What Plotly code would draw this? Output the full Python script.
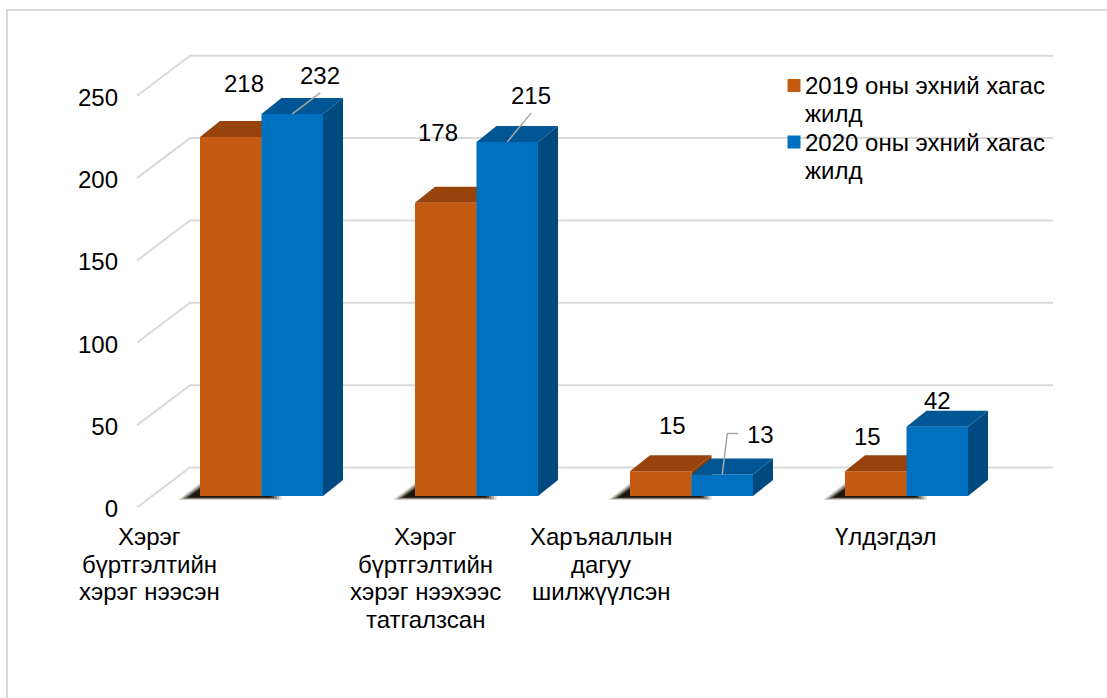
import plotly.graph_objects as go

# ---------- data ----------
categories = [
    "Хэрэг<br>бүртгэлтийн<br>хэрэг нээсэн",
    "Хэрэг<br>бүртгэлтийн<br>хэрэг нээхээс<br>татгалзсан",
    "Харъяаллын<br>дагуу<br>шилжүүлсэн",
    "Үлдэгдэл",
]
series_2019 = [218, 178, 15, 15]
series_2020 = [232, 215, 13, 42]
name_2019 = "2019 оны эхний хагас<br>жилд"
name_2020 = "2020 оны эхний хагас<br>жилд"
y_ticks = [0, 50, 100, 150, 200, 250]

# ---------- geometry ----------
W, H = 1107, 698
PX_CAT = 215.0          # px per category
PX_VAL = 1.647          # px per value unit
C0 = 261.5              # px of first group centre
BASE = 496.0            # px of value 0 in the bar plane
FRONT_BASE = 509.0      # px of value 0 for the tick labels
BAR_W = 61.5 / PX_CAT
DX = 20 / PX_CAT        # bar depth
DY = 16 / PX_VAL
LINE = 27.7             # px between text lines
FONT = "Liberation Sans, Arial, sans-serif"
FS = 24

C_O, C_O_TOP, C_O_SIDE = "#C55A11", "#97430B", "#8A3D0A"
C_B, C_B_TOP, C_B_SIDE = "#0070C0", "#005594", "#004A7F"
GRID = "#D9D9D9"
LEADER = "#A6A6A6"

xrange_ = [-C0 / PX_CAT, (W - C0) / PX_CAT]
yrange_bar = [(BASE - H) / PX_VAL, BASE / PX_VAL]
yrange_front = [(FRONT_BASE - H) / PX_VAL, FRONT_BASE / PX_VAL]

fig = go.Figure()

# back wall and gridlines (layer y: front plane)
wall_x0 = (137 - C0) / PX_CAT
wall_x1 = (190 - C0) / PX_CAT
wall_x2 = (1053 - C0) / PX_CAT
wall_dy = 40 / PX_VAL
wall_lift = 1.5 / PX_VAL
for t in y_ticks:
    fig.add_trace(go.Scatter(
        x=[wall_x0, wall_x1, wall_x2],
        y=[t + wall_lift, t + wall_lift + wall_dy, t + wall_lift + wall_dy],
        mode="lines", line=dict(color=GRID, width=2), yaxis="y",
        hoverinfo="skip", showlegend=False))


def poly(xs, ys, color, yaxis):
    fig.add_trace(go.Scatter(
        x=xs, y=ys, mode="lines", fill="toself", fillcolor=color,
        line=dict(width=0, color=color), yaxis=yaxis,
        hoverinfo="skip", showlegend=False))


# soft contact shadows (layer y2), grown outwards from the foot of the orange bar
for i in range(len(categories)):
    left = i - BAR_W
    for grow, op in ((4, 0.15), (3, 0.22), (2, 0.32), (1, 0.5), (0, 0.85)):
        tip = (12 + 2.5 * grow) / PX_CAT
        tail = (10 + 2.5 * grow) / PX_CAT
        rise = (7 + 1.5 * grow) / PX_VAL
        drop = (1.5 + 0.6 * grow) / PX_VAL
        poly([left, left - tip, i + tail, i + tail, left, left],
             [rise, -drop, -drop, 0, 0, rise],
             f"rgba(20,12,0,{op})", "y2")

# orange bars with side and top faces (layer y2)
for i, v in enumerate(series_2019):
    l, r = i - BAR_W, i
    poly([r, r + DX, r + DX, r, r], [0, DY, v + DY, v, 0], C_O_SIDE, "y2")
    poly([l, l + DX, r + DX, r, l], [v, v + DY, v + DY, v, v], C_O_TOP, "y2")
fig.add_trace(go.Bar(x=list(range(4)), y=series_2019, width=BAR_W, offset=-BAR_W, yaxis="y2",
                     marker=dict(color=C_O, line=dict(width=0)), name=name_2019,
                     hoverinfo="skip", showlegend=False))

# blue bars with side and top faces (layer y3)
for i, v in enumerate(series_2020):
    l, r = i, i + BAR_W
    poly([r, r + DX, r + DX, r, r], [0, DY, v + DY, v, 0], C_B_SIDE, "y3")
    poly([l, l + DX, r + DX, r, l], [v, v + DY, v + DY, v, v], C_B_TOP, "y3")
fig.add_trace(go.Bar(x=list(range(4)), y=series_2020, width=BAR_W, offset=0, yaxis="y3",
                     marker=dict(color=C_B, line=dict(width=0)), name=name_2020,
                     hoverinfo="skip", showlegend=False))

# leader lines, starting at the top centre of the blue bars
leaders = {0: [(0, 0), (28, 21)], 1: [(0, 0), (24, 29)], 2: [(0, 0), (5, 41), (16, 41)]}
for i, pts in leaders.items():
    cx = i + BAR_W / 2
    fig.add_trace(go.Scatter(
        x=[cx + p[0] / PX_CAT for p in pts],
        y=[series_2020[i] + p[1] / PX_VAL for p in pts],
        mode="lines", line=dict(color=LEADER, width=1.5), yaxis="y3",
        hoverinfo="skip", showlegend=False))

annotations = []
# data labels: offset in px from the top centre of their bar
shift_2019 = [(13, 53), (-8, 70), (12, 46), (-8, 35)]
shift_2020 = [(28, 38), (24, 46), (38, 40), (0, 26)]
for i, v in enumerate(series_2019):
    annotations.append(dict(x=i - BAR_W / 2, y=v, xref="x", yref="y2", text=str(v),
                            xshift=shift_2019[i][0], yshift=shift_2019[i][1], showarrow=False,
                            xanchor="center", yanchor="middle"))
for i, v in enumerate(series_2020):
    annotations.append(dict(x=i + BAR_W / 2, y=v, xref="x", yref="y3", text=str(v),
                            xshift=shift_2020[i][0], yshift=shift_2020[i][1], showarrow=False,
                            xanchor="center", yanchor="middle"))
# category labels, line by line, to keep the tight line spacing of the reference
cat_px = [149, 425, 601, 885.5]
for px, txt in zip(cat_px, categories):
    for k, line in enumerate(txt.split("<br>")):
        annotations.append(dict(x=px / W, y=1 - (536.5 + LINE * k) / H, xref="paper", yref="paper",
                                text=line, showarrow=False, xanchor="center", yanchor="middle"))

# legend, line by line
shapes = [
    dict(type="line", xref="paper", yref="paper", x0=7 / W, x1=7 / W, y0=0, y1=1 - 10 / H,
         line=dict(color=GRID, width=2), layer="below"),
    dict(type="line", xref="paper", yref="paper", x0=6 / W, x1=1, y0=1 - 10 / H, y1=1 - 10 / H,
         line=dict(color=GRID, width=2), layer="below"),
]
for name, color, top in ((name_2019, C_O, 79), (name_2020, C_B, 135.5)):
    shapes.append(dict(type="rect", xref="paper", yref="paper", x0=787.5 / W, x1=800.5 / W,
                       y0=1 - (top + 13) / H, y1=1 - top / H, fillcolor=color, line=dict(width=0)))
    for k, line in enumerate(name.split("<br>")):
        annotations.append(dict(x=805 / W, y=1 - (top + 7 + LINE * k) / H, xref="paper", yref="paper",
                                text=line, showarrow=False, xanchor="left", yanchor="middle",
                                xshift=-2))

fig.update_layout(
    width=W, height=H,
    margin=dict(l=0, r=0, t=0, b=0),
    paper_bgcolor="white", plot_bgcolor="white",
    barmode="overlay",
    font=dict(family=FONT, size=FS, color="#000000"),
    xaxis=dict(range=xrange_, visible=False, domain=[0, 1], fixedrange=True),
    yaxis=dict(range=yrange_front, tickvals=y_ticks, showgrid=False, zeroline=False, showline=False,
               ticks="", anchor="free", position=118 / W, domain=[0, 1], fixedrange=True,
               tickfont=dict(family=FONT, size=FS, color="#000000")),
    yaxis2=dict(range=yrange_bar, overlaying="y", visible=False, fixedrange=True),
    yaxis3=dict(range=yrange_bar, overlaying="y", visible=False, fixedrange=True),
    showlegend=False,
    annotations=annotations,
    shapes=shapes,
)

fig.write_html("out.html", post_script="document.body.style.margin='0';",
               config={"displayModeBar": False})
